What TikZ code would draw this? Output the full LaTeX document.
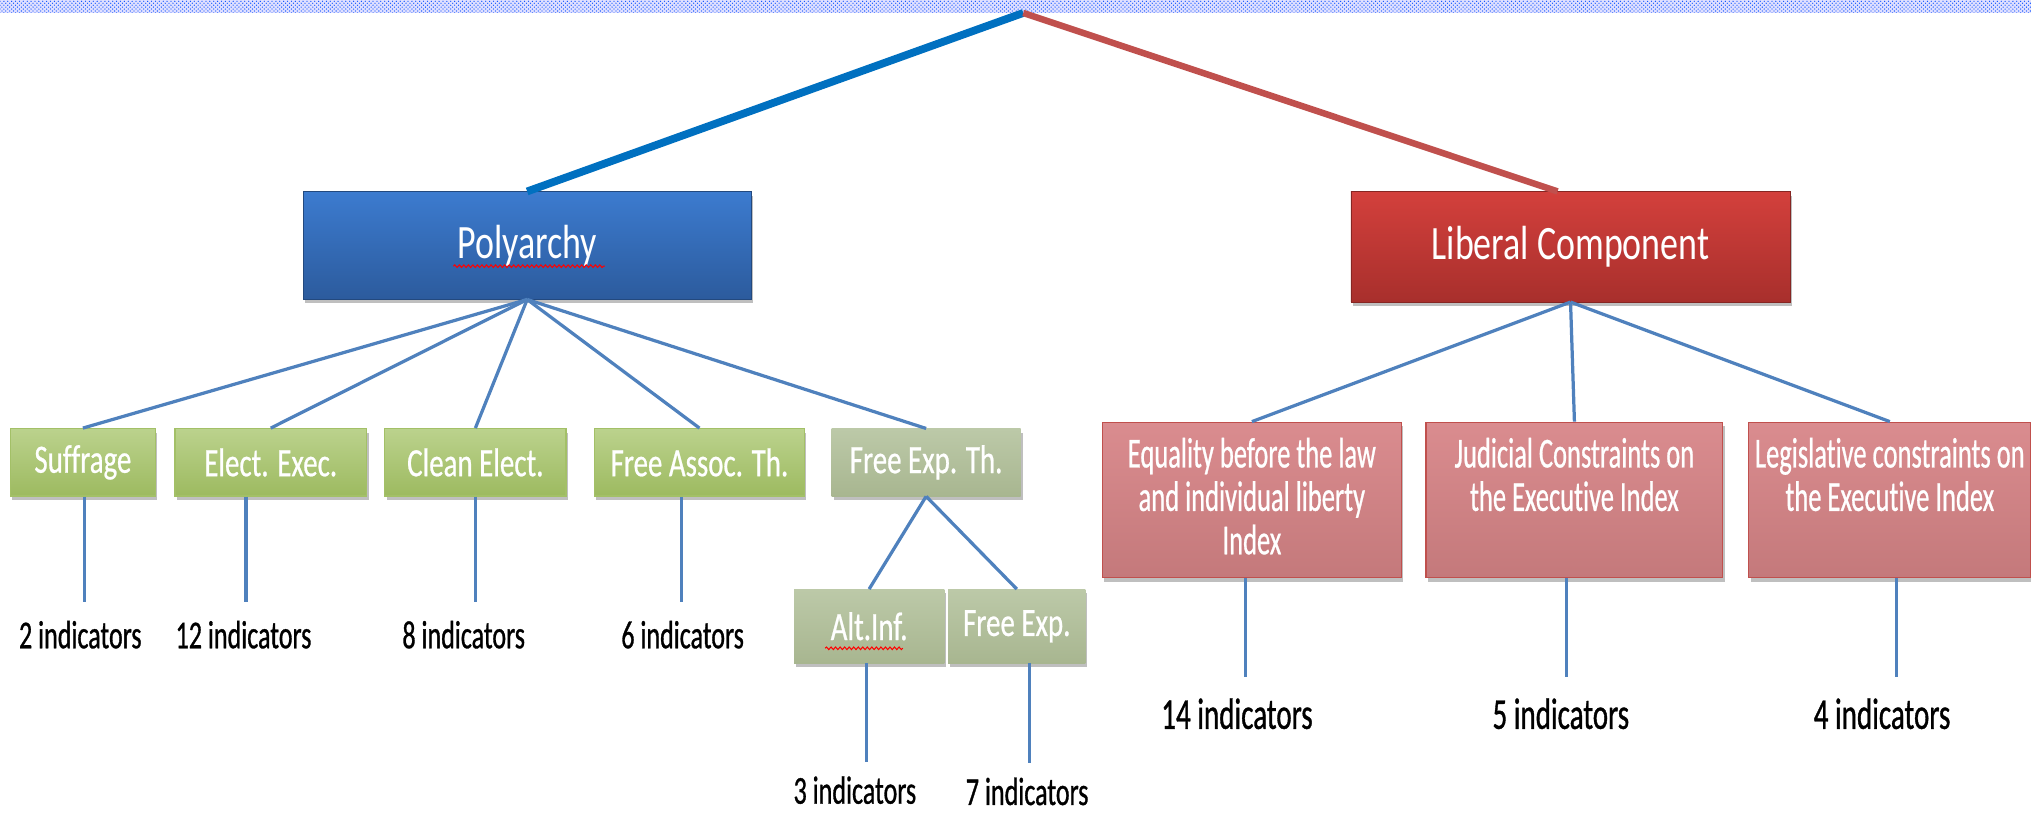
\documentclass[tikz,border=0pt]{standalone}
\usepackage{fontspec}
\setmainfont{Carlito}[FakeStretch=0.8]
\newfontfamily\fbig{Carlito}[FakeStretch=0.75,Ligatures=NoCommon]
\newfontfamily\fgreen{Carlito}[FakeStretch=0.72,Ligatures=NoCommon,FakeBold=0.6]
\newfontfamily\flbl{Carlito}[FakeStretch=0.66,Ligatures=NoCommon,FakeBold=0.8]
\newfontfamily\fpink{Carlito}[FakeStretch=0.62,Ligatures=NoCommon,FakeBold=0.6]
\usetikzlibrary{shadows,patterns,decorations.pathmorphing,calc}
\definecolor{topblue}{HTML}{0070C0}
\definecolor{topred}{HTML}{C0504D}
\definecolor{conn}{HTML}{4F81BD}
\definecolor{polytop}{HTML}{3C7BCF}
\definecolor{polybot}{HTML}{2C5B9D}
\definecolor{libtop}{HTML}{D3403C}
\definecolor{libbot}{HTML}{A82F2C}
\definecolor{grtop}{HTML}{BBD28D}
\definecolor{grbot}{HTML}{9DBA60}
\definecolor{grline}{HTML}{A3C067}
\definecolor{ggtop}{HTML}{BCC9A8}
\definecolor{ggbot}{HTML}{A8B690}
\definecolor{pktop}{HTML}{DA8C8F}
\definecolor{pkbot}{HTML}{C4797B}
\definecolor{pkline}{HTML}{C0504D}
\newcommand{\pinkbody}[2]{\parbox[c][120pt][t]{#1}{\centering\vspace*{12pt}#2\par}}
\begin{document}
\begin{tikzpicture}[x=1pt,y=-1pt,
  shd/.style={drop shadow={shadow xshift=1.5pt,shadow yshift=-3pt,opacity=0.25,fill=black}},
  bigbox/.style={rectangle,shd,text=white,font=\fbig\fontsize{37}{40}\selectfont,inner sep=0pt},
  polybox/.style={bigbox,top color=polytop,bottom color=polybot,draw=polybot!80!black,line width=0.4pt},
  libbox/.style={bigbox,top color=libtop,bottom color=libbot,draw=libbot!80!black,line width=0.4pt},
  grbox/.style={rectangle,shd,top color=grtop,bottom color=grbot,draw=grline,line width=1pt,
    text=white,font=\fgreen\fontsize{31}{33}\selectfont,inner sep=0pt,minimum height=52pt},
  ggbox/.style={rectangle,shd,top color=ggtop,bottom color=ggbot,
    text=white,font=\fgreen\fontsize{31}{33}\selectfont,inner sep=0pt,minimum height=57pt},
  pkbox/.style={rectangle,shd,top color=pktop,bottom color=pkbot,draw=pkline,line width=1pt,
    text=white,font=\fpink\fontsize{33}{33.5}\selectfont,inner sep=0pt},
  lblS/.style={inner sep=0pt,font=\flbl\fontsize{30.5}{32}\selectfont},
  lblL/.style={inner sep=0pt,font=\flbl\fontsize{34}{36}\selectfont},
  cn/.style={draw=conn,line width=2.5pt},
  squig/.style={draw=red,line width=0.8pt,decorate,decoration={snake,amplitude=1pt,segment length=3.5pt}}
]
\useasboundingbox (0,0) rectangle (1568,628);
% top band
\fill[blue!12] (0,0) rectangle (1568,10);
\fill[pattern=crosshatch dots,pattern color=blue!70!cyan] (0,0) rectangle (1568,10);
\coordinate (apex) at (790,10);

% main boxes
\node[polybox,minimum width=346pt,minimum height=83pt] (poly) at (407,189.5) {Polyarchy};
\node[libbox,minimum width=339pt,minimum height=85pt] (lib) at (1212.5,190.5) {Liberal Component};

\draw[topblue,line width=6pt] (apex) -- (poly.north);
\draw[topred,line width=5pt] (apex) -- ([xshift=-10pt]lib.north);

% green boxes
\node[grbox,minimum width=112pt] (suf) at (64,357) {Suffrage};
\node[grbox,minimum width=148pt] (ee) at (209,357) {Elect. Exec.};
\node[grbox,minimum width=140pt] (ce) at (367,357) {Clean Elect.};
\node[grbox,minimum width=162pt] (fa) at (540,357) {Free Assoc. Th.};
\node[ggbox,minimum width=146pt,minimum height=52pt] (fet) at (715,357) {Free Exp. Th.};
\node[ggbox,minimum width=116pt] (alt) at (671,483.5) {Alt.Inf.};
\node[ggbox,minimum width=106pt] (fe) at (785,483.5) {Free Exp.};

% pink boxes
\node[pkbox] (eq) at (966.5,386) {\pinkbody{231pt}{Equality before the law\\and individual liberty\\Index}};
\node[pkbox] (jc) at (1215.5,386) {\pinkbody{229pt}{Judicial Constraints on\\the Executive Index}};
\node[pkbox] (lc) at (1459,386) {\pinkbody{218pt}{Legislative constraints on\\the Executive Index}};

% spell-check underlines
\draw[squig] ($(poly.center)+(-57,16)$) -- ($(poly.center)+(60,16)$);
\draw[squig] ($(alt.center)+(-34,17)$) -- ($(alt.center)+(26,17)$);

% connectors from Polyarchy
\foreach \c in {suf,ee,ce,fa,fet} \draw[cn] (poly.south) -- (\c.north);
\draw[cn] (fet.south) -- (alt.north);
\draw[cn] (fet.south) -- (fe.north);
% connectors from Liberal Component
\foreach \c in {eq,jc,lc} \draw[cn] (lib.south) -- (\c.north);

% labels
\node[lblS] (l1) at (62,490) {2 indicators};
\node[lblS] (l2) at (188,490) {12 indicators};
\node[lblS] (l3) at (358,490) {8 indicators};
\node[lblS] (l4) at (527,490) {6 indicators};
\node[lblS] (l5) at (660,610) {3 indicators};
\node[lblS] (l6) at (793,611) {7 indicators};
\node[lblL] (l7) at (955,551) {14 indicators};
\node[lblL] (l8) at (1205,551) {5 indicators};
\node[lblL] (l9) at (1453,551) {4 indicators};

% vertical connectors
\path ([xshift=1pt]suf.south) coordinate (v1) ([xshift=-19pt]ee.south) coordinate (v2)
      (ce.south) coordinate (v3) ([xshift=-14pt]fa.south) coordinate (v4)
      ([xshift=-2pt]alt.south) coordinate (v5) ([xshift=10pt]fe.south) coordinate (v6)
      ([xshift=-5pt]eq.south) coordinate (v7) ([xshift=-6pt]jc.south) coordinate (v8)
      ([xshift=5pt]lc.south) coordinate (v9);
\draw[cn,shorten >=14pt] (v1) -- (v1 |- l1.north);
\draw[cn,shorten >=14pt] (v2) -- (v2 |- l2.north);
\draw[cn,shorten >=14pt] (v3) -- (v3 |- l3.north);
\draw[cn,shorten >=14pt] (v4) -- (v4 |- l4.north);
\draw[cn,shorten >=11pt] (v5) -- (v5 |- l5.north);
\draw[cn,shorten >=11pt] (v6) -- (v6 |- l6.north);
\draw[cn,shorten >=16pt] (v7) -- (v7 |- l7.north);
\draw[cn,shorten >=16pt] (v8) -- (v8 |- l8.north);
\draw[cn,shorten >=16pt] (v9) -- (v9 |- l9.north);
\end{tikzpicture}
\end{document}
